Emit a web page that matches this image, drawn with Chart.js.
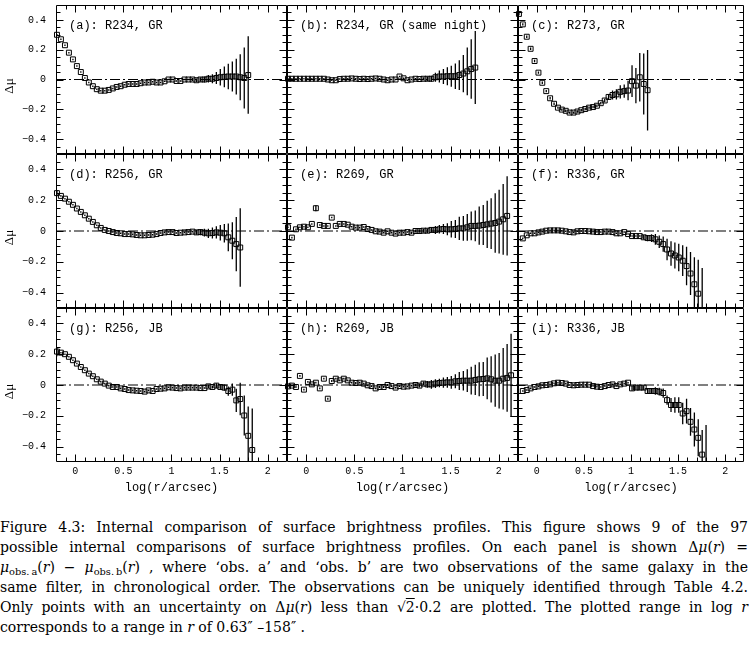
<!DOCTYPE html>
<html>
<head>
<meta charset="utf-8">
<script src="https://cdn.jsdelivr.net/npm/chart.js@4.4.0/dist/chart.umd.min.js"></script>
<style>
  html, body { margin: 0; padding: 0; background: #fff; }
  #page { position: relative; width: 749px; height: 646px; overflow: hidden; background: #fff; }
  #page canvas { position: absolute; }
  #caption { position: absolute; left: 0; top: 517px; width: 748px; font-family: "DejaVu Serif", serif; font-size: 14px; line-height: 20px; color: #000; }
  #caption div { text-align: justify; text-align-last: justify; white-space: nowrap; }
  #caption div.last { text-align-last: left; }
  #caption sub { font-size: 0.7em; vertical-align: -0.3em; line-height: 0; }
  .ov { text-decoration: overline; }
</style>
</head>
<body>
<div id="page">
  <div id="caption">
    <div>Figure 4.3: Internal comparison of surface brightness profiles. This figure shows 9 of the 97</div>
    <div>possible internal comparisons of surface brightness profiles. On each panel is shown Δ<i>μ</i>(<i>r</i>) =</div>
    <div><i>μ</i><sub>obs.&thinsp;a</sub>(<i>r</i>) − <i>μ</i><sub>obs.&thinsp;b</sub>(<i>r</i>) , where ‘obs. a’ and ‘obs. b’ are two observations of the same galaxy in the</div>
    <div>same filter, in chronological order. The observations can be uniquely identified through Table 4.2.</div>
    <div>Only points with an uncertainty on Δ<i>μ</i>(<i>r</i>) less than √<span class="ov">2</span>·0.2 are plotted. The plotted range in log <i>r</i></div>
    <div class="last">corresponds to a range in <i>r</i> of 0.63″ –158″ .</div>
  </div>
</div>
<script>
// log(r/arcsec) sampling of the profiles
const logR = [-0.190, -0.149, -0.107, -0.066, -0.024, 0.017, 0.058, 0.100, 0.141, 0.183,
  0.224, 0.265, 0.307, 0.348, 0.390, 0.431, 0.472, 0.514, 0.555, 0.597,
  0.638, 0.679, 0.721, 0.762, 0.804, 0.845, 0.886, 0.928, 0.969, 1.011,
  1.052, 1.093, 1.135, 1.176, 1.218, 1.259, 1.300, 1.342, 1.383, 1.425,
  1.466, 1.507, 1.549, 1.590, 1.632, 1.673, 1.714, 1.756, 1.797, 1.839,
  1.880, 1.921, 1.963, 2.004, 2.046, 2.087, 2.128];

const xTicks = [0, 0.5, 1, 1.5, 2];
const yTicks = [-0.4, -0.2, 0, 0.2, 0.4];
const refLine = [-0.2, 2.2];

const panelLabels = ['(a): R234, GR', '(b): R234, GR (same night)', '(c): R273, GR',
  '(d): R256, GR', '(e): R269, GR', '(f): R336, GR',
  '(g): R256, JB', '(h): R269, JB', '(i): R336, JB'];

// (a)
const dmuA = [0.30, 0.27, 0.23, 0.18, 0.135, 0.09, 0.05, 0.01, -0.02, -0.045,
  -0.065, -0.075, -0.075, -0.07, -0.06, -0.05, -0.045, -0.035, -0.03, -0.03,
  -0.03, -0.025, -0.02, -0.02, -0.015, -0.02, -0.02, -0.012, 0, 0,
  -0.01, -0.01, 0, 0, 0, -0.005, 0, 0, 0.005, 0.005,
  0.01, 0.015, 0.018, 0.02, 0.02, 0.02, 0.015, 0.01, 0.03];
const errA = [0.005, 0.005, 0.005, 0.005, 0.005, 0.005, 0.005, 0.005, 0.005, 0.005,
  0.005, 0.005, 0.005, 0.005, 0.005, 0.005, 0.005, 0.005, 0.005, 0.005,
  0.005, 0.005, 0.005, 0.005, 0.005, 0.005, 0.005, 0.005, 0.005, 0.005,
  0.005, 0.005, 0.005, 0.005, 0.01, 0.012, 0.015, 0.02, 0.025, 0.03,
  0.04, 0.055, 0.07, 0.085, 0.1, 0.12, 0.155, 0.205, 0.26];

// (b)
const dmuB = [0.005, 0.005, 0.005, 0.005, 0.005, 0.005, 0.005, 0.005, 0.005, 0.005,
  0, -0.005, -0.005, 0.003, 0.005, 0.005, 0.007, 0.005, 0.003, 0.005,
  0.003, 0.005, 0.007, 0.005, 0, -0.005, 0, 0, 0.02, 0.008,
  -0.005, 0, 0.005, 0.003, 0.005, 0.005, 0.005, 0.015, 0.02, 0.02,
  0.022, 0.022, 0.022, 0.03, 0.04, 0.055, 0.07, 0.08];
const errB = [0.005, 0.005, 0.005, 0.005, 0.005, 0.005, 0.005, 0.005, 0.005, 0.005,
  0.005, 0.005, 0.005, 0.005, 0.005, 0.005, 0.005, 0.005, 0.005, 0.005,
  0.005, 0.005, 0.005, 0.005, 0.005, 0.005, 0.005, 0.005, 0.005, 0.005,
  0.005, 0.005, 0.005, 0.005, 0.01, 0.015, 0.02, 0.03, 0.04, 0.05,
  0.06, 0.07, 0.085, 0.1, 0.125, 0.16, 0.2, 0.245];

// (c)
const dmuC = [0.44, 0.37, 0.287, 0.206, 0.124, 0.046, -0.022, -0.078, -0.126, -0.163,
  -0.189, -0.202, -0.21, -0.222, -0.222, -0.215, -0.206, -0.198, -0.189, -0.185,
  -0.176, -0.159, -0.141, -0.117, -0.104, -0.1, -0.083, -0.078, -0.074, -0.011,
  -0.041, 0.015, -0.03, -0.072];
const errC = [0.008, 0.008, 0.008, 0.008, 0.008, 0.008, 0.008, 0.008, 0.008, 0.008,
  0.008, 0.008, 0.008, 0.008, 0.008, 0.008, 0.008, 0.008, 0.008, 0.008,
  0.008, 0.008, 0.012, 0.02, 0.03, 0.035, 0.045, 0.045, 0.065, 0.107,
  0.119, 0.163, 0.205, 0.27];

// (d)
const dmuD = [0.246, 0.228, 0.21, 0.19, 0.17, 0.146, 0.124, 0.102, 0.08, 0.059,
  0.037, 0.02, 0.007, 0, -0.007, -0.013, -0.015, -0.02, -0.02, -0.022,
  -0.026, -0.028, -0.028, -0.026, -0.024, -0.02, -0.013, -0.009, -0.007, -0.007,
  -0.013, -0.011, -0.009, -0.007, -0.004, -0.009, -0.007, -0.011, -0.015, -0.013,
  -0.009, -0.011, -0.015, -0.041, -0.063, -0.085, -0.107];
const errD = [0.02, 0.005, 0.005, 0.005, 0.005, 0.005, 0.005, 0.005, 0.005, 0.005,
  0.005, 0.005, 0.005, 0.005, 0.005, 0.005, 0.005, 0.005, 0.005, 0.005,
  0.005, 0.005, 0.005, 0.005, 0.005, 0.005, 0.005, 0.005, 0.005, 0.005,
  0.005, 0.005, 0.005, 0.005, 0.005, 0.015, 0.02, 0.025, 0.03, 0.035,
  0.04, 0.05, 0.06, 0.09, 0.12, 0.176, 0.255];

// (e)
const dmuE = [0.024, -0.043, 0.011, 0.024, 0.028, 0.024, 0.046, 0.148, 0.039, 0.033,
  0.033, 0.087, 0.033, 0.046, 0.046, 0.041, 0.028, 0.022, 0.022, 0.026,
  0.013, 0.007, -0.002, -0.004, -0.011, -0.002, -0.011, -0.017, -0.011, -0.011,
  -0.007, -0.011, 0, 0, 0.002, 0.002, 0.007, 0.007, 0.011, 0.013,
  0.011, 0.011, 0.013, 0.017, 0.017, 0.024, 0.033, 0.033, 0.035, 0.039,
  0.043, 0.048, 0.052, 0.061, 0.076, 0.098];
const errE = [0.005, 0.005, 0.005, 0.005, 0.005, 0.005, 0.005, 0.02, 0.005, 0.005,
  0.005, 0.005, 0.005, 0.005, 0.005, 0.005, 0.005, 0.005, 0.005, 0.005,
  0.005, 0.005, 0.005, 0.005, 0.005, 0.005, 0.005, 0.005, 0.005, 0.005,
  0.005, 0.008, 0.01, 0.012, 0.013, 0.015, 0.017, 0.026, 0.028, 0.033,
  0.039, 0.054, 0.059, 0.076, 0.08, 0.087, 0.093, 0.1, 0.124, 0.13,
  0.154, 0.165, 0.193, 0.207, 0.23, 0.257];

// (f)
const dmuF = [null, -0.048, -0.028, -0.015, -0.015, -0.009, -0.004, 0.002, 0.004, 0.004,
  0.004, 0.002, -0.002, -0.007, -0.009, -0.002, 0, 0, -0.002, -0.004,
  -0.007, -0.007, -0.004, -0.004, -0.007, -0.015, -0.015, -0.007, -0.02, -0.033,
  -0.033, -0.033, -0.041, -0.046, -0.046, -0.054, -0.07, -0.085, -0.12, -0.146,
  -0.159, -0.172, -0.193, -0.228, -0.276, -0.346, -0.407, -0.56];
const errF = [null, 0.005, 0.005, 0.005, 0.005, 0.005, 0.005, 0.005, 0.005, 0.005,
  0.005, 0.005, 0.005, 0.005, 0.005, 0.005, 0.005, 0.005, 0.005, 0.005,
  0.005, 0.005, 0.005, 0.005, 0.005, 0.005, 0.005, 0.005, 0.005, 0.005,
  0.005, 0.005, 0.015, 0.02, 0.025, 0.035, 0.04, 0.05, 0.07, 0.08,
  0.085, 0.09, 0.1, 0.125, 0.14, 0.175, 0.22, 0.32];

// (g)
const dmuG = [0.217, 0.21, 0.2, 0.183, 0.161, 0.139, 0.117, 0.096, 0.074, 0.057,
  0.037, 0.022, 0.009, -0.004, -0.013, -0.013, -0.022, -0.026, -0.033, -0.035,
  -0.037, -0.039, -0.043, -0.035, -0.039, -0.026, -0.024, -0.022, -0.015, -0.017,
  -0.02, -0.022, -0.017, -0.017, -0.017, -0.017, -0.02, -0.02, -0.009, -0.013,
  -0.004, -0.013, -0.017, -0.039, -0.03, -0.1, -0.091, -0.198, -0.33, -0.422];
const errG = [0.03, 0.005, 0.005, 0.005, 0.005, 0.005, 0.005, 0.005, 0.005, 0.005,
  0.005, 0.005, 0.005, 0.005, 0.005, 0.005, 0.005, 0.005, 0.005, 0.005,
  0.005, 0.005, 0.005, 0.005, 0.005, 0.005, 0.005, 0.005, 0.005, 0.005,
  0.005, 0.005, 0.005, 0.005, 0.005, 0.005, 0.005, 0.005, 0.01, 0.01,
  0.015, 0.015, 0.02, 0.03, 0.04, 0.075, 0.105, 0.13, 0.19, 0.27];

// (h)
const dmuH = [-0.009, -0.004, -0.013, 0.059, -0.03, 0.02, 0.004, 0.015, -0.022, 0.041,
  -0.089, 0.026, 0.041, 0.03, 0.041, 0.03, 0.015, 0.013, 0.015, 0.009,
  -0.002, -0.007, -0.022, -0.013, -0.013, 0, -0.007, -0.017, -0.007, -0.011,
  -0.009, -0.004, 0, -0.004, 0.009, 0.004, 0.004, 0.009, 0.013, 0.015,
  0.017, 0.017, 0.024, 0.026, 0.028, 0.028, 0.028, 0.033, 0.037, 0.039,
  0.043, 0.037, 0.028, 0.028, 0.041, 0.046, 0.063];
const errH = [0.006, 0.006, 0.006, 0.006, 0.006, 0.006, 0.006, 0.006, 0.006, 0.006,
  0.006, 0.006, 0.006, 0.006, 0.006, 0.006, 0.006, 0.006, 0.006, 0.006,
  0.006, 0.006, 0.006, 0.006, 0.006, 0.006, 0.006, 0.006, 0.006, 0.006,
  0.006, 0.006, 0.01, 0.012, 0.013, 0.022, 0.028, 0.028, 0.028, 0.033,
  0.035, 0.041, 0.045, 0.059, 0.063, 0.074, 0.09, 0.098, 0.11, 0.11,
  0.135, 0.15, 0.17, 0.18, 0.2, 0.22, 0.27];

// (i)
const dmuI = [null, -0.039, -0.033, -0.022, -0.013, -0.009, -0.002, 0, 0.004, 0.011,
  0.015, 0.013, 0.009, 0, -0.002, 0, 0.002, 0.002, 0.002, -0.007,
  -0.011, -0.013, -0.007, 0, 0.004, -0.007, 0.004, 0.009, 0.015, -0.022,
  -0.017, -0.017, -0.017, -0.039, -0.039, -0.039, -0.043, -0.052, -0.098, -0.13,
  -0.13, -0.13, -0.185, -0.17, -0.239, -0.289, -0.343, -0.452, -0.56];
const errI = [null, 0.005, 0.005, 0.005, 0.005, 0.005, 0.005, 0.005, 0.005, 0.005,
  0.005, 0.005, 0.005, 0.005, 0.005, 0.005, 0.005, 0.005, 0.005, 0.005,
  0.005, 0.005, 0.005, 0.005, 0.005, 0.005, 0.005, 0.005, 0.005, 0.015,
  0.015, 0.015, 0.015, 0.02, 0.02, 0.025, 0.025, 0.03, 0.03, 0.045,
  0.05, 0.05, 0.07, 0.08, 0.09, 0.11, 0.12, 0.16, 0.3];

const panelData = [[dmuA, errA], [dmuB, errB], [dmuC, errC],
  [dmuD, errD], [dmuE, errE], [dmuF, errF],
  [dmuG, errG], [dmuH, errH], [dmuI, errI]];

// layout of the 3x3 grid
const colLeft = [56, 287, 518];
const rowTop = [0, 154, 308];
const panelW = 231, panelH = 154;

Chart.defaults.font.family = '"Liberation Mono", monospace';
Chart.defaults.color = '#000';

// frame with inward ticks on all four sides
const framePlugin = {
  id: 'frame',
  afterDraw(chart) {
    const {ctx, chartArea: a, scales: {x, y}} = chart;
    const L = Math.round(a.left) + 0.5, R = Math.round(a.right) - 0.5;
    const T = Math.round(a.top) + 0.5, B = Math.round(a.bottom) - 0.5;
    ctx.save();
    ctx.strokeStyle = '#000';
    ctx.lineWidth = 1;
    ctx.beginPath();
    ctx.rect(L, T, R - L, B - T);
    for (let k = -1; k <= 21; k++) {
      const px = Math.round(x.getPixelForValue(k / 10)) + 0.5;
      const len = k % 5 === 0 ? 7 : 4;
      ctx.moveTo(px, B); ctx.lineTo(px, B - len);
      ctx.moveTo(px, T); ctx.lineTo(px, T + len);
    }
    for (let k = -9; k <= 9; k++) {
      const py = Math.round(y.getPixelForValue(k / 20)) + 0.5;
      const len = k % 4 === 0 ? 7 : 4;
      ctx.moveTo(L, py); ctx.lineTo(L + len, py);
      ctx.moveTo(R, py); ctx.lineTo(R - len, py);
    }
    ctx.stroke();
    ctx.restore();
  }
};

function makeErrorBars(vals, errs) {
  return {
    id: 'errorBars',
    afterDatasetsDraw(chart) {
      const {ctx, chartArea: a, scales: {x, y}} = chart;
      ctx.save();
      ctx.beginPath();
      ctx.rect(a.left - 6, a.top, a.right - a.left + 12, a.bottom - a.top);
      ctx.clip();
      ctx.strokeStyle = '#000';
      ctx.lineWidth = 1.3;
      ctx.beginPath();
      vals.forEach((v, i) => {
        if (v === null) return;
        const px = x.getPixelForValue(logR[i]);
        ctx.moveTo(px, y.getPixelForValue(v - errs[i]));
        ctx.lineTo(px, y.getPixelForValue(v + errs[i]));
      });
      ctx.stroke();
      ctx.restore();
    }
  };
}

function makeLabel(text) {
  return {
    id: 'panelLabel',
    afterDraw(chart) {
      const {ctx, chartArea: a} = chart;
      ctx.save();
      ctx.font = '12px "Liberation Mono", monospace';
      ctx.fillStyle = '#000';
      ctx.textBaseline = 'alphabetic';
      ctx.fillText(text, a.left + 13, a.top + 24);
      ctx.restore();
    }
  };
}

const page = document.getElementById('page');

panelData.forEach(([vals, errs], i) => {
  const c = i % 3, r = Math.floor(i / 3);
  const showY = c === 0, showX = r === 2;
  const extL = showY ? 56 : 6, extR = c === 2 ? 0 : 6;
  const extT = r === 0 ? 0 : 6, extB = showX ? 37 : 6;

  const canvas = document.createElement('canvas');
  canvas.width = panelW + extL + extR;
  canvas.height = panelH + extT + extB;
  canvas.style.left = (colLeft[c] - extL) + 'px';
  canvas.style.top = (rowTop[r] - extT) + 'px';
  canvas.style.width = canvas.width + 'px';
  canvas.style.height = canvas.height + 'px';
  page.appendChild(canvas);

  const pts = [];
  vals.forEach((v, k) => { if (v !== null) pts.push({x: logR[k], y: v}); });

  new Chart(canvas, {
    type: 'scatter',
    data: {
      datasets: [
        {
          type: 'line',
          data: refLine.map(x => ({x: x, y: 0})),
          borderColor: '#000',
          borderWidth: 1,
          borderDash: [10, 3, 2, 3],
          pointRadius: 0,
          order: 2
        },
        {
          data: pts,
          pointStyle: 'rect',
          pointRadius: 3.5,
          borderWidth: 1,
          borderColor: '#000',
          backgroundColor: 'rgba(0,0,0,0)',
          clip: {left: 6, right: 6, top: 3, bottom: 0},
          order: 1
        }
      ]
    },
    options: {
      responsive: false,
      animation: false,
      events: [],
      layout: {padding: {left: showY ? 0 : 6, right: extR, top: extT, bottom: showX ? 0 : 6}},
      plugins: {legend: {display: false}, tooltip: {enabled: false}},
      scales: {
        x: {
          type: 'linear',
          min: -0.2,
          max: 2.2,
          display: showX,
          grid: {display: false, drawTicks: false},
          border: {display: false},
          afterBuildTicks: s => { s.ticks = xTicks.map(v => ({value: v})); },
          afterFit: s => {
            if (showX) s.height = 37;
            s.paddingLeft = 0; s.paddingRight = 0;
          },
          ticks: {font: {size: 10}, padding: 3, maxRotation: 0, autoSkip: false, callback: v => String(v)},
          title: {display: true, text: 'log(r/arcsec)', font: {size: 12}, padding: {top: 0, bottom: 4}}
        },
        y: {
          type: 'linear',
          min: -0.5,
          max: 0.5,
          display: showY,
          grid: {display: false, drawTicks: false},
          border: {display: false},
          afterBuildTicks: s => { s.ticks = yTicks.map(v => ({value: v})); },
          afterFit: s => {
            if (showY) s.width = 56;
            s.paddingTop = 0; s.paddingBottom = 0;
          },
          ticks: {font: {size: 10}, padding: 10, autoSkip: false, callback: v => String(v).replace('-', '\u2212')},
          title: {display: true, text: 'Δμ\u2003', font: {family: '"Liberation Serif", serif', size: 13}, padding: {top: 2, bottom: 0}}
        }
      }
    },
    plugins: [framePlugin, makeErrorBars(vals, errs), makeLabel(panelLabels[i])]
  });
});
</script>
</body>
</html>
